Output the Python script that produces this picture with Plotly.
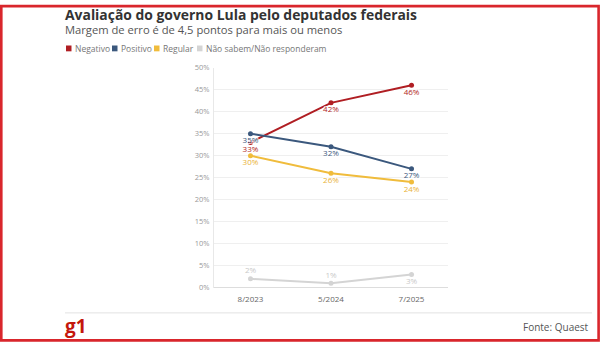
import plotly.graph_objects as go

# Survey waves and results (%)
categories = ["8/2023", "5/2024", "7/2025"]
negativo = [33, 42, 46]
positivo = [35, 32, 27]
regular = [30, 26, 24]
nao_sabem = [2, 1, 3]

series_names = ["Negativo", "Positivo", "Regular", "Não sabem/Não responderam"]
series_values = [negativo, positivo, regular, nao_sabem]
line_colors = ["#b01e23", "#3b587d", "#f0bc3c", "#d4d4d4"]
label_colors = ["#b01e23", "#3b587d", "#e9b236", "#c9c9c9"]
label_positions = [
    ["bottom center"] * 3,
    ["bottom center"] * 3,
    ["bottom center"] * 3,
    ["top center", "top center", "bottom center"],
]

y_ticks = [0, 5, 10, 15, 20, 25, 30, 35, 40, 45, 50]
y_ticktext = [f"{t}%" for t in y_ticks]

title = "Avaliação do governo Lula pelo deputados federais"
subtitle = "Margem de erro é de 4,5 pontos para mais ou menos"
source = "Fonte: Quaest"

W, H = 600, 348
FONT = "Open Sans"


def px(x):
    return x / W


def py(y):
    return 1 - y / H


fig = go.Figure()

# lines with markers
for name, vals, col in zip(series_names, series_values, line_colors):
    fig.add_trace(go.Scatter(
        x=categories, y=vals, name=name, mode="lines+markers",
        line=dict(color=col, width=2),
        marker=dict(color=col, size=5),
        showlegend=False, hoverinfo="skip",
    ))

# value labels on top of every line, with a white halo
halo = "-1px -1px 0 #fff, 1px -1px 0 #fff, -1px 1px 0 #fff, 1px 1px 0 #fff"
for name, vals, col, pos in zip(series_names, series_values, label_colors, label_positions):
    fig.add_trace(go.Scatter(
        x=categories, y=vals, mode="markers+text",
        marker=dict(size=4, color="rgba(0,0,0,0)"),
        text=[f"{v}%" for v in vals],
        textposition=pos,
        textfont=dict(family=FONT, size=8, color=col, shadow=halo),
        cliponaxis=False, showlegend=False, hoverinfo="skip",
    ))

annotations = [
    dict(text=f"<b>{title}</b>", x=px(64), y=py(9.5), xanchor="left", yanchor="middle",
         font=dict(family=FONT, size=13.9, color="#333333"), borderpad=0),
    dict(text=subtitle, x=px(64), y=py(25), xanchor="left", yanchor="middle",
         font=dict(family=FONT, size=11.2, color="#555555"), borderpad=0),
    dict(text="<b>g1</b>", x=px(63), y=py(330), xanchor="left", yanchor="middle",
         font=dict(family=FONT, size=19, color="#c4170c")),
    dict(text=source, x=px(591), y=py(332), xanchor="right", yanchor="middle",
         font=dict(family=FONT, size=10, color="#555555")),
]

shapes = []
legend_x = [66, 112, 154, 197]
for lx, name, col in zip(legend_x, series_names, line_colors):
    shapes.append(dict(type="rect", xref="paper", yref="paper",
                       x0=px(lx), x1=px(lx + 5.5), y0=py(47.7), y1=py(41.7),
                       fillcolor=col, line=dict(width=0)))
    annotations.append(dict(text=name, x=px(lx + 6.5), y=py(44.7), xanchor="left",
                            yanchor="middle",
                            font=dict(family=FONT, size=8.5, color="#777777")))

# footer rule
shapes.append(dict(type="line", xref="paper", yref="paper",
                   x0=px(65), x1=px(592), y0=py(317), y1=py(317),
                   line=dict(color="#e2e2e2", width=1)))
# outer frame
shapes.append(dict(type="rect", xref="paper", yref="paper",
                   x0=px(1.3), x1=px(598.6), y0=py(345.3), y1=py(1.2),
                   line=dict(color="#d9262c", width=2.6), fillcolor="rgba(0,0,0,0)"))

for a in annotations:
    a.update(xref="paper", yref="paper", showarrow=False)

fig.update_layout(
    width=W, height=H,
    margin=dict(l=0, r=0, t=0, b=0),
    paper_bgcolor="white", plot_bgcolor="white",
    font=dict(family=FONT),
    showlegend=False,
    annotations=annotations,
    shapes=shapes,
    xaxis=dict(
        type="category", range=[-0.453, 2.453], domain=[px(214), px(448)],
        showgrid=False, showline=False, zeroline=False, ticks="",
        ticklabelstandoff=5,
        tickfont=dict(family=FONT, size=8, color="#666666"),
        fixedrange=True,
    ),
    yaxis=dict(
        range=[0, 50], domain=[py(291), py(64.5)],
        tickvals=y_ticks, ticktext=y_ticktext,
        showgrid=True, gridcolor="#efefef", gridwidth=1,
        zeroline=True, zerolinecolor="#dddddd", zerolinewidth=1,
        showline=True, linecolor="#e8e8e8", linewidth=1,
        ticks="", ticklabelstandoff=2,
        tickfont=dict(family=FONT, size=7.5, color="#999999"),
        fixedrange=True,
    ),
)

fig.write_html("out.html", config={"displayModeBar": False})
